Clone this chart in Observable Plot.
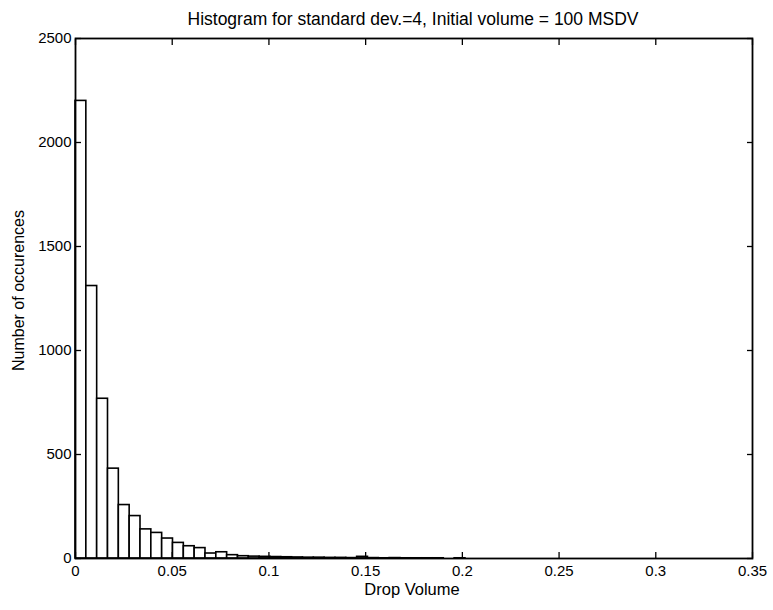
<!DOCTYPE html>
<html>
<head>
<meta charset="utf-8">
<script src="https://cdn.jsdelivr.net/npm/d3@7"></script>
<script src="https://cdn.jsdelivr.net/npm/@observablehq/plot@0.6"></script>
<style>
  html, body { margin: 0; padding: 0; background: #fff; }
  #chart svg { display: block; }
</style>
</head>
<body>
<div id="chart"></div>
<script>
// ---- data ----
const title = "Histogram for standard dev.=4, Initial volume = 100 MSDV";
const xLabel = "Drop Volume";
const yLabel = "Number of occurences";
const binWidth = 0.0056;
const counts = [2200, 1310, 768, 432, 257, 204, 140, 123, 96, 75,
                59, 50, 24, 30, 16, 11, 9, 8, 7, 6,
                5, 4, 4, 3, 3, 2, 8, 2, 1, 2,
                1, 1, 1, 1, 0, 1];
const xTicks = [0, 0.05, 0.1, 0.15, 0.2, 0.25, 0.3, 0.35];
const xTickLabels = ["0", "0.05", "0.1", "0.15", "0.2", "0.25", "0.3", "0.35"];
const yTicks = [0, 500, 1000, 1500, 2000, 2500];
const yTickLabels = ["0", "500", "1000", "1500", "2000", "2500"];

const bins = counts
  .map((c, i) => ({x0: i * binWidth, x1: (i + 1) * binWidth, count: c}))
  .filter(d => d.count > 0);

const font = "'Liberation Sans', Arial, Helvetica, sans-serif";

const chart = Plot.plot({
  width: 773,
  height: 610,
  marginLeft: 75,
  marginRight: 21,
  marginTop: 38,
  marginBottom: 52,
  style: {fontFamily: font, fontSize: "15px", color: "black", background: "white"},
  x: {domain: [0, 0.35]},
  y: {domain: [0, 2500]},
  marks: [
    Plot.rectY(bins, {x1: "x0", x2: "x1", y1: 0, y2: "count", fill: "white", stroke: "black", strokeWidth: 1.6}),
    Plot.frame({stroke: "black", strokeWidth: 1.8}),
    Plot.axisX({anchor: "bottom", ticks: xTicks, tickSize: -6, tickPadding: 13, strokeWidth: 1.3,
      tickFormat: (d) => xTickLabels[xTicks.indexOf(d)], label: null, fontSize: 15}),
    Plot.axisX({anchor: "top", ticks: xTicks, tickSize: -6, strokeWidth: 1.3, tickFormat: () => "", label: null}),
    Plot.axisY({anchor: "left", ticks: yTicks, tickSize: -6, tickPadding: 10, strokeWidth: 1.3,
      tickFormat: (d) => yTickLabels[yTicks.indexOf(d)], label: null, fontSize: 15}),
    Plot.axisY({anchor: "right", ticks: yTicks, tickSize: -6, strokeWidth: 1.3, tickFormat: () => "", label: null}),
    Plot.text([title], {frameAnchor: "top", dy: -26, dx: -1, fontSize: 17.5, text: d => d}),
    Plot.text([xLabel], {frameAnchor: "bottom", dy: 36, dx: -2, fontSize: 16.5, text: d => d}),
    Plot.text([yLabel], {frameAnchor: "left", textAnchor: "middle", dx: -57, dy: -8, rotate: -90, fontSize: 16, text: d => d})
  ]
});
document.getElementById("chart").appendChild(chart);
</script>
</body>
</html>
